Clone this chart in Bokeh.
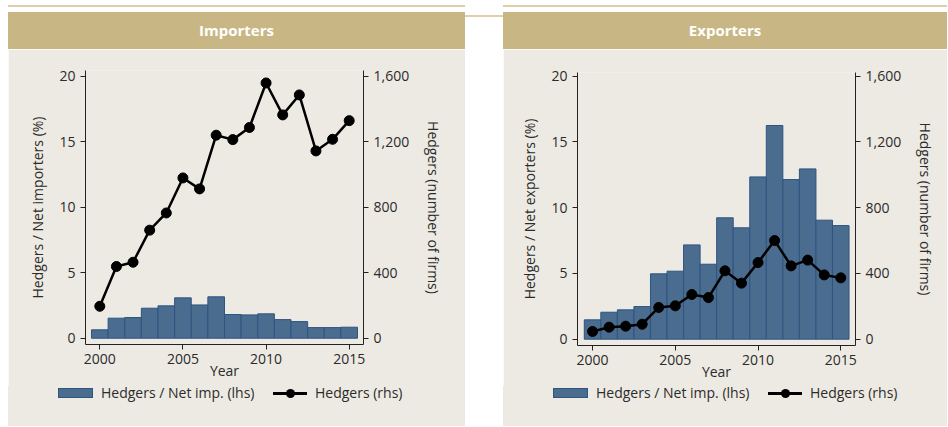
from bokeh.plotting import figure
from bokeh.models import (Range1d, LinearAxis, FixedTicker, NumeralTickFormatter,
                          Spacer, Div)
from bokeh.layouts import column, row
from bokeh.embed import file_html
from bokeh.resources import INLINE

# ---------------- data ----------------
years = [2000, 2001, 2002, 2003, 2004, 2005, 2006, 2007,
         2008, 2009, 2010, 2011, 2012, 2013, 2014, 2015]

imp_share = [0.64, 1.53, 1.58, 2.29, 2.47, 3.08, 2.54, 3.16,
             1.81, 1.78, 1.86, 1.42, 1.27, 0.81, 0.81, 0.84]
imp_hedgers = [195, 438, 464, 660, 765, 979, 912, 1240,
               1213, 1287, 1559, 1364, 1486, 1144, 1215, 1329]

exp_share = [1.47, 2.05, 2.23, 2.48, 4.97, 5.17, 7.17, 5.70,
             9.23, 8.47, 12.34, 16.25, 12.14, 12.95, 9.05, 8.64]
exp_hedgers = [47, 73, 79, 91, 193, 203, 272, 253,
               416, 341, 466, 600, 446, 481, 391, 373]

left_ticks = [0, 5, 10, 15, 20]
right_ticks = [0, 400, 800, 1200, 1600]
x_ticks = [2000, 2005, 2010, 2015]
legend_labels = ["Hedgers / Net imp. (lhs)", "Hedgers (rhs)"]

# ---------------- style ----------------
FONT = "Open Sans"
BG = "#EDEAE3"
GOLD = "#C8B784"
RULE = "#DCD0AC"
BAR = "#4A6C8E"
BAR_LINE = "#2E5480"
TXT = "#2b2b2b"
FS = "14px"


def header(title, width):
    html = (f'<div style="width:{width}px;height:2px;background:{RULE};"></div>'
            f'<div style="width:{width}px;height:5px;"></div>'
            f'<div style="width:{width}px;height:37px;background:{GOLD};color:white;'
            f'font-family:\'{FONT}\';font-weight:bold;font-size:15px;line-height:37px;'
            f'text-align:center;">{title}</div>')
    return Div(text=html, width=width, height=44, margin=0)


def gap(width):
    html = f'<div style="width:{width}px;height:2px;background:{RULE};"></div>'
    return column(Div(text=html, width=width, height=44, margin=0),
                  Spacer(width=width, height=377))


def panel(share, hedgers, ylabel, width, mb_left, mb_right, mb_top, mb_bottom, xr, yr):
    p = figure(width=width, height=337, toolbar_location=None, output_backend="svg",
               x_range=Range1d(*xr), y_range=Range1d(*yr),
               min_border_left=mb_left, min_border_right=mb_right,
               min_border_top=mb_top, min_border_bottom=mb_bottom,
               background_fill_color=BG, border_fill_color=BG, outline_line_color=None)
    p.grid.visible = False
    p.extra_y_ranges = {"n": Range1d(yr[0] * 80, yr[1] * 80)}

    p.vbar(x=years, top=share, width=1.0, bottom=0,
           fill_color=BAR, line_color=BAR_LINE, line_width=1)
    p.line(x=years, y=hedgers, y_range_name="n", line_color="black", line_width=2.5)
    p.scatter(x=years, y=hedgers, y_range_name="n", size=10,
              fill_color="black", line_color="black")

    raxis = LinearAxis(y_range_name="n")
    p.add_layout(raxis, "right")

    for ax in [p.xaxis[0], p.yaxis[0], raxis]:
        ax.axis_line_color = "#222222"
        ax.axis_line_width = 1
        ax.major_tick_line_color = "#222222"
        ax.major_tick_out = 5
        ax.major_tick_in = 0
        ax.minor_tick_out = 0
        ax.minor_tick_in = 0
        ax.major_label_text_font = FONT
        ax.major_label_text_font_size = FS
        ax.major_label_text_color = TXT
        ax.axis_label_text_font = FONT
        ax.axis_label_text_font_size = FS
        ax.axis_label_text_color = TXT
        ax.axis_label_text_font_style = "normal"

    p.xaxis[0].ticker = FixedTicker(ticks=x_ticks)
    p.xaxis[0].major_label_standoff = 4
    p.xaxis[0].axis_label = "Year"
    p.xaxis[0].axis_label_standoff = -6
    p.yaxis[0].ticker = FixedTicker(ticks=left_ticks)
    p.yaxis[0].axis_label = ylabel
    p.yaxis[0].major_label_standoff = 5
    p.yaxis[0].axis_label_standoff = 9
    raxis.ticker = FixedTicker(ticks=right_ticks)
    raxis.formatter = NumeralTickFormatter(format="0,0")
    raxis.axis_label = "Hedgers (number of firms)"
    raxis.major_label_standoff = 5
    raxis.axis_label_standoff = 12
    return p


def legend_div(width):
    html = (
        f'<div style="position:relative;width:{width}px;height:40px;background:{BG};'
        f'font-family:\'{FONT}\';font-size:{FS};color:{TXT};">'
        f'<span style="position:absolute;left:50px;top:2px;width:35px;height:10px;'
        f'box-sizing:border-box;background:{BAR};border:1px solid {BAR_LINE};"></span>'
        f'<span style="position:absolute;left:93px;top:-2px;line-height:18px;white-space:nowrap;">'
        f'{legend_labels[0]}</span>'
        f'<span style="position:absolute;left:265px;top:6px;width:34px;height:2.5px;'
        f'background:black;"></span>'
        f'<span style="position:absolute;left:277.5px;top:2.5px;width:9px;height:9px;'
        f'border-radius:50%;background:black;"></span>'
        f'<span style="position:absolute;left:307px;top:-2px;line-height:18px;white-space:nowrap;">'
        f'{legend_labels[1]}</span>'
        f'</div>'
    )
    return Div(text=html, width=width, height=40, margin=0)


left = panel(imp_share, imp_hedgers, "Hedgers / Net importers (%)", 457,
             77, 102, 21, 42, (1999.14, 2015.86), (-0.48, 20.44))
right = panel(exp_share, exp_hedgers, "Hedgers / Net exporters (%)", 444,
              74, 92, 23, 41, (1999.09, 2015.89), (-0.48, 20.28))

layout = column(
    Spacer(width=940, height=5),
    row(Spacer(width=8, height=421),
        column(header("Importers", 457), left, legend_div(457)),
        gap(38),
        column(header("Exporters", 444), right, legend_div(444))),
)

open("out.html", "w").write(file_html(layout, INLINE))
